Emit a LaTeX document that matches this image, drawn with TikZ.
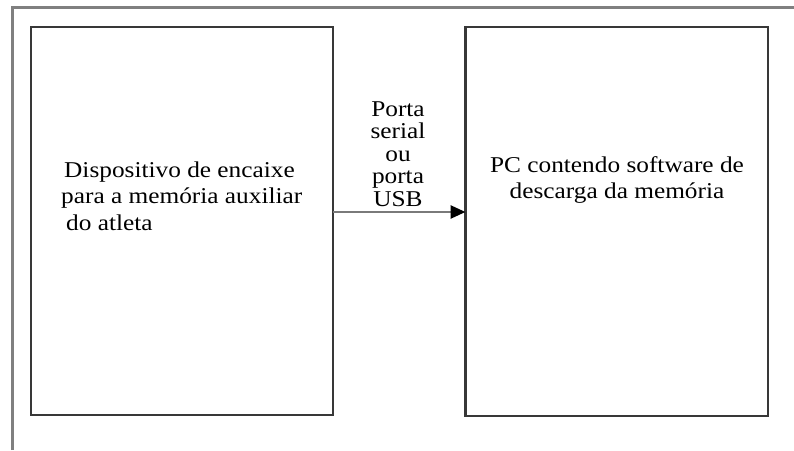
\documentclass[tikz,border=0pt]{standalone}
\usepackage{fontspec}
\setmainfont{Liberation Serif}[FakeStretch=1.12]
\usetikzlibrary{arrows.meta}
\begin{document}
\begin{tikzpicture}[x=1pt,y=-1pt,
  framel/.style={draw=black!50,line width=2.2pt},
  blockbox/.style={draw=black!78,line width=2.6pt,inner sep=0pt,outer sep=0pt,anchor=north west},
  boxtext/.style={font=\fontsize{22.6}{26.5}\selectfont,inner sep=0pt},
  linklabel/.style={font=\fontsize{22.6}{22.6}\selectfont,inner sep=0pt,align=center},
  linkarrow/.style={draw=black!52,line width=2.6pt,-{Triangle[length=15pt,width=13pt,color=black]}}]
\useasboundingbox (0,0) rectangle (794,450);
% outer page frame (top and left edges only)
\coordinate (fbot) at (12.5,450);
\coordinate (fcorner) at (12.5,7.5);
\coordinate (fright) at (794,7.5);
\draw[framel] (fbot) -- (fcorner) -- (fright);
% the two blocks
\node[blockbox,minimum width=302pt,minimum height=388pt] (dev) at (31,27) {};
\node[blockbox,minimum width=302.5pt,minimum height=389pt] (pc) at (465.5,27) {};
% block texts
\node[boxtext,align=left,anchor=west] (devtxt) at (61,196)
  {\hspace*{3pt}Dispositivo de encaixe\\para a memória auxiliar\\\hspace*{5pt}do atleta};
\node[boxtext,align=center] (pctxt) at (617,180)
  {PC contendo software de\\descarga da memória};
% connection and its label
\coordinate (ay) at (0,212);
\draw[linkarrow] (dev.east |- ay) -- (pc.west |- ay);
\node[linklabel] (lbl) at (398,154) {Porta\\serial\\ou\\porta\\USB};
\end{tikzpicture}
\end{document}
